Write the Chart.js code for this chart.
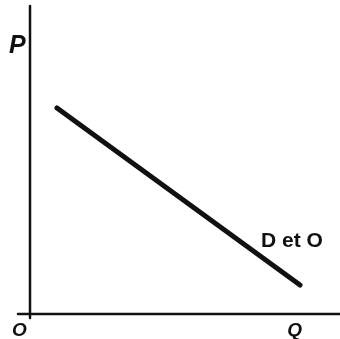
<!DOCTYPE html>
<html>
<head>
<meta charset="utf-8">
<script src="https://cdn.jsdelivr.net/npm/chart.js@4.4.0/dist/chart.umd.min.js"></script>
<style>
    html, body { margin: 0; padding: 0; background: #fff; }
    #wrap { width: 340px; height: 339px; }
</style>
</head>
<body>
<div id="wrap"><canvas id="demandChart"></canvas></div>
<script>
// Demand curve endpoints (quantity, price)
const demandQ = [0.87, 8.71];
const demandP = [6.69, 0.94];
const curveLabel = 'D et O';
const labelAt = { q: 8.45, p: 2.37 };

// Draw the P / Q axes and their letters
const axesPlugin = {
    id: 'axesPlugin',
    afterDatasetsDraw(chart) {
        const { ctx, chartArea, scales } = chart;
        const x0 = scales.x.getPixelForValue(0);
        const y0 = scales.y.getPixelForValue(0);
        ctx.save();
        ctx.strokeStyle = '#111';
        ctx.lineWidth = 2.5;
        ctx.lineCap = 'round';
        ctx.beginPath();
        ctx.moveTo(x0, chartArea.top);
        ctx.lineTo(x0, y0 + 4);
        ctx.moveTo(x0 - 12, y0);
        ctx.lineTo(chartArea.right, y0);
        ctx.stroke();

        ctx.fillStyle = '#111';
        ctx.textBaseline = 'alphabetic';
        ctx.textAlign = 'left';
        ctx.font = 'italic bold 25px "Liberation Sans", Arial, sans-serif';
        ctx.fillText('P', x0 - 21, 53);
        ctx.font = 'italic bold 19px "Liberation Sans", Arial, sans-serif';
        ctx.fillText('O', x0 - 18, y0 + 22);
        ctx.fillText('Q', scales.x.getPixelForValue(8.3), y0 + 22);

        ctx.font = 'bold 21px "Liberation Sans", Arial, sans-serif';
        ctx.textAlign = 'center';
        ctx.textBaseline = 'middle';
        ctx.fillText(curveLabel, scales.x.getPixelForValue(labelAt.q), scales.y.getPixelForValue(labelAt.p));
        ctx.restore();
    }
};

const ctx = document.getElementById('demandChart').getContext('2d');
new Chart(ctx, {
    type: 'scatter',
    data: {
        datasets: [{
            data: demandQ.map((q, i) => ({ x: q, y: demandP[i] })),
            showLine: true,
            borderColor: '#111',
            borderWidth: 5,
            borderCapStyle: 'round',
            pointRadius: 0,
            pointHoverRadius: 0
        }]
    },
    options: {
        responsive: true,
        maintainAspectRatio: false,
        animation: false,
        layout: {
            padding: { left: 30, top: 6, right: 0, bottom: 25 }
        },
        plugins: {
            legend: { display: false },
            tooltip: { enabled: false }
        },
        scales: {
            x: { type: 'linear', min: 0, max: 10, display: false },
            y: { type: 'linear', min: 0, max: 10, display: false }
        }
    },
    plugins: [axesPlugin]
});
</script>
</body>
</html>
